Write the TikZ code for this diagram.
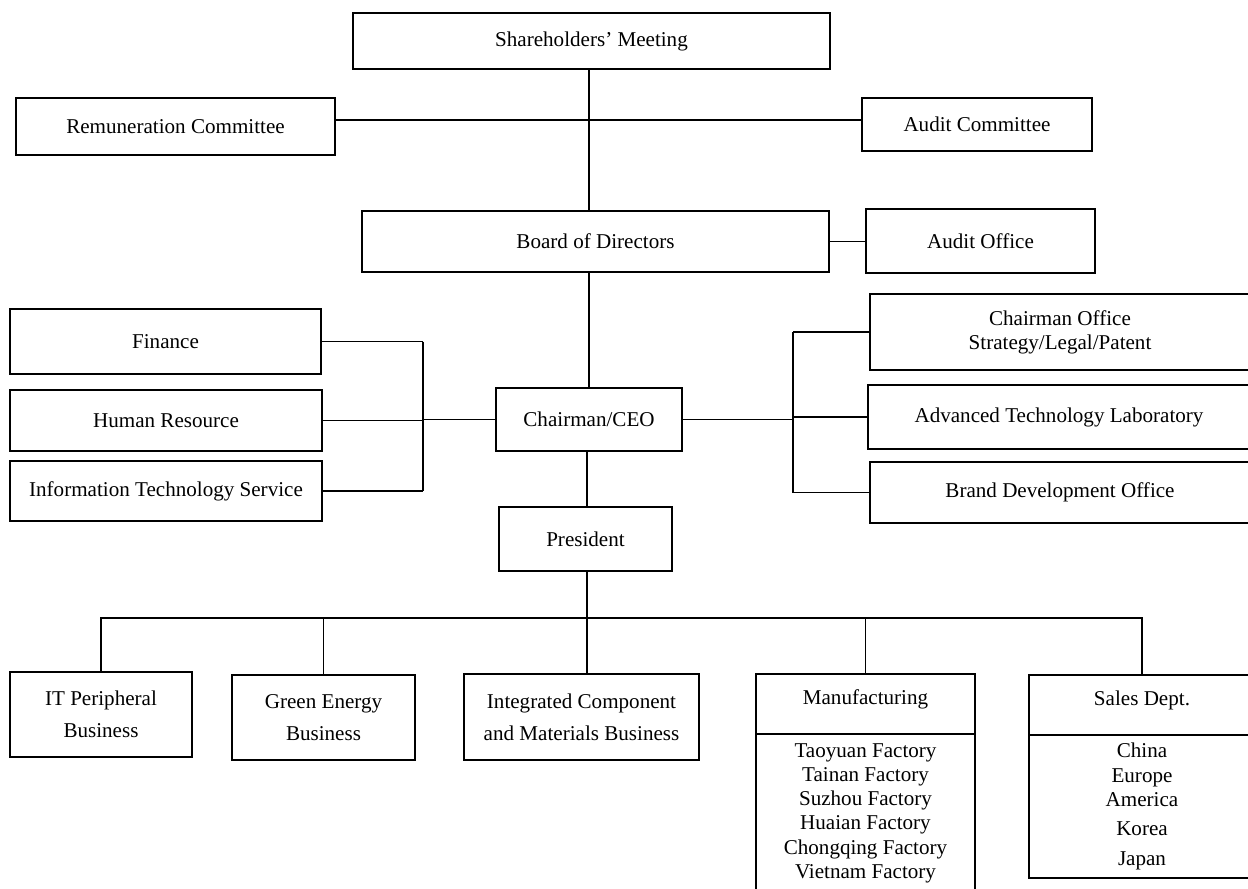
\documentclass[tikz,border=0pt]{standalone}
\usepackage{fontspec}
\setmainfont{Liberation Serif}
\usetikzlibrary{positioning}

\begin{document}
\begin{tikzpicture}[
x=0.02cm, y=-0.02cm, line width=1.1pt,
box/.style = {draw, inner sep=0pt, outer sep=0pt, align=center,
              font=\fontsize{12}{13.8}\selectfont},
wh/.style 2 args = {minimum width=#1*0.02cm, minimum height=#2*0.02cm},
head/.style = {text depth=8pt}
                        ]
\useasboundingbox (0,0) rectangle (1248,889);
\clip (0,0) rectangle (1248,889);
\fill[white] (0,0) rectangle (1248,889);

%
\node (share)    [box, wh={477}{56}] at (591.5,41)  {Shareholders’ Meeting};
\node (remu)     [box, wh={319}{57}] at (175.5,126.5) {Remuneration Committee};
\node (auditc)   [box, wh={230}{53}] at (977,124.5) {Audit Committee};
\node (board)    [box, wh={467}{61}] at (595.5,241.5) {Board of Directors};
\node (auditoff) [box, wh={229}{64}] at (980.5,241) {Audit Office};

%
\node (fin) [box, wh={311}{65}] at (165.5,341.5) {Finance};
\node (hr)  [box, wh={312}{61}] at (166,420.5)   {Human Resource};
\node (its) [box, wh={312}{60}] at (166,491)     {Information Technology Service};
\node (ceo) [box, wh={186}{63}] at (589,419.5)   {Chairman/CEO};
\node (chair) [box, wh={380}{76}] at (1060,332)  {Chairman Office\\Strategy/Legal/Patent};
\node (atl)   [box, wh={382}{64}] at (1059,417)  {Advanced Technology Laboratory};
\node (bdo)   [box, wh={380}{61}] at (1060,492.5) {Brand Development Office};
\node (pres)  [box, wh={173}{64}] at (585.5,539) {President};

%
\node (itp)   [box, wh={182}{85}] at (101,714.5)   {IT Peripheral\\[4.4pt]Business};
\node (green) [box, wh={183}{85}] at (323.5,717.5) {Green Energy\\[4.4pt]Business};
\node (icm)   [box, wh={235}{86}] at (581.5,717)   {Integrated Component\\[4.4pt]and Materials Business};
\node (manu)  [box, head, wh={219}{60}] at (865.5,704) {Manufacturing};
\node (manulist) [box, wh={219}{158}, below=0pt of manu]
      {Taoyuan Factory\\Tainan Factory\\Suzhou Factory\\Huaian Factory\\Chongqing Factory\\Vietnam Factory};
\node (sales) [box, head, wh={226}{60}] at (1142,705) {Sales Dept.};
\node (saleslist) [box, wh={226}{143}, below=0pt of sales]
      {China\\Europe\\America\\[3pt]Korea\\[3pt]Japan};

%
\coordinate (trunk) at (589,120);
\coordinate (lbr)   at (423,419);
\coordinate (rbr)   at (793,419);
\coordinate (bus)   at (587,618);

\draw (share.south -| trunk) -- (board.north -| trunk);
\draw (remu.east |- trunk) -- (auditc.west |- trunk);
\draw (board.east) -- (board.east -| auditoff.west);
\draw (board.south -| ceo) -- (ceo.north);

\draw (ceo.west) -- (ceo.west -| lbr);
\foreach \n in {fin,hr,its}
    \draw (\n.east) -- (\n.east -| lbr);
\draw (fin.east -| lbr) -- (its.east -| lbr);

\draw (ceo.east) -- (ceo.east -| rbr);
\foreach \n in {chair,atl,bdo}
    \draw (\n.west) -- (\n.west -| rbr);
\draw (chair.west -| rbr) -- (bdo.west -| rbr);

\draw (ceo.south -| bus) -- (pres.north -| bus);
\draw (pres.south -| bus) -- (bus);
\draw (itp.north) |- (bus) -| (sales.north);
\draw (bus) -- (bus |- icm.north);
\foreach \n in {green,manu}
    \draw (\n.north) -- (\n.north |- bus);
\end{tikzpicture}
\end{document}
